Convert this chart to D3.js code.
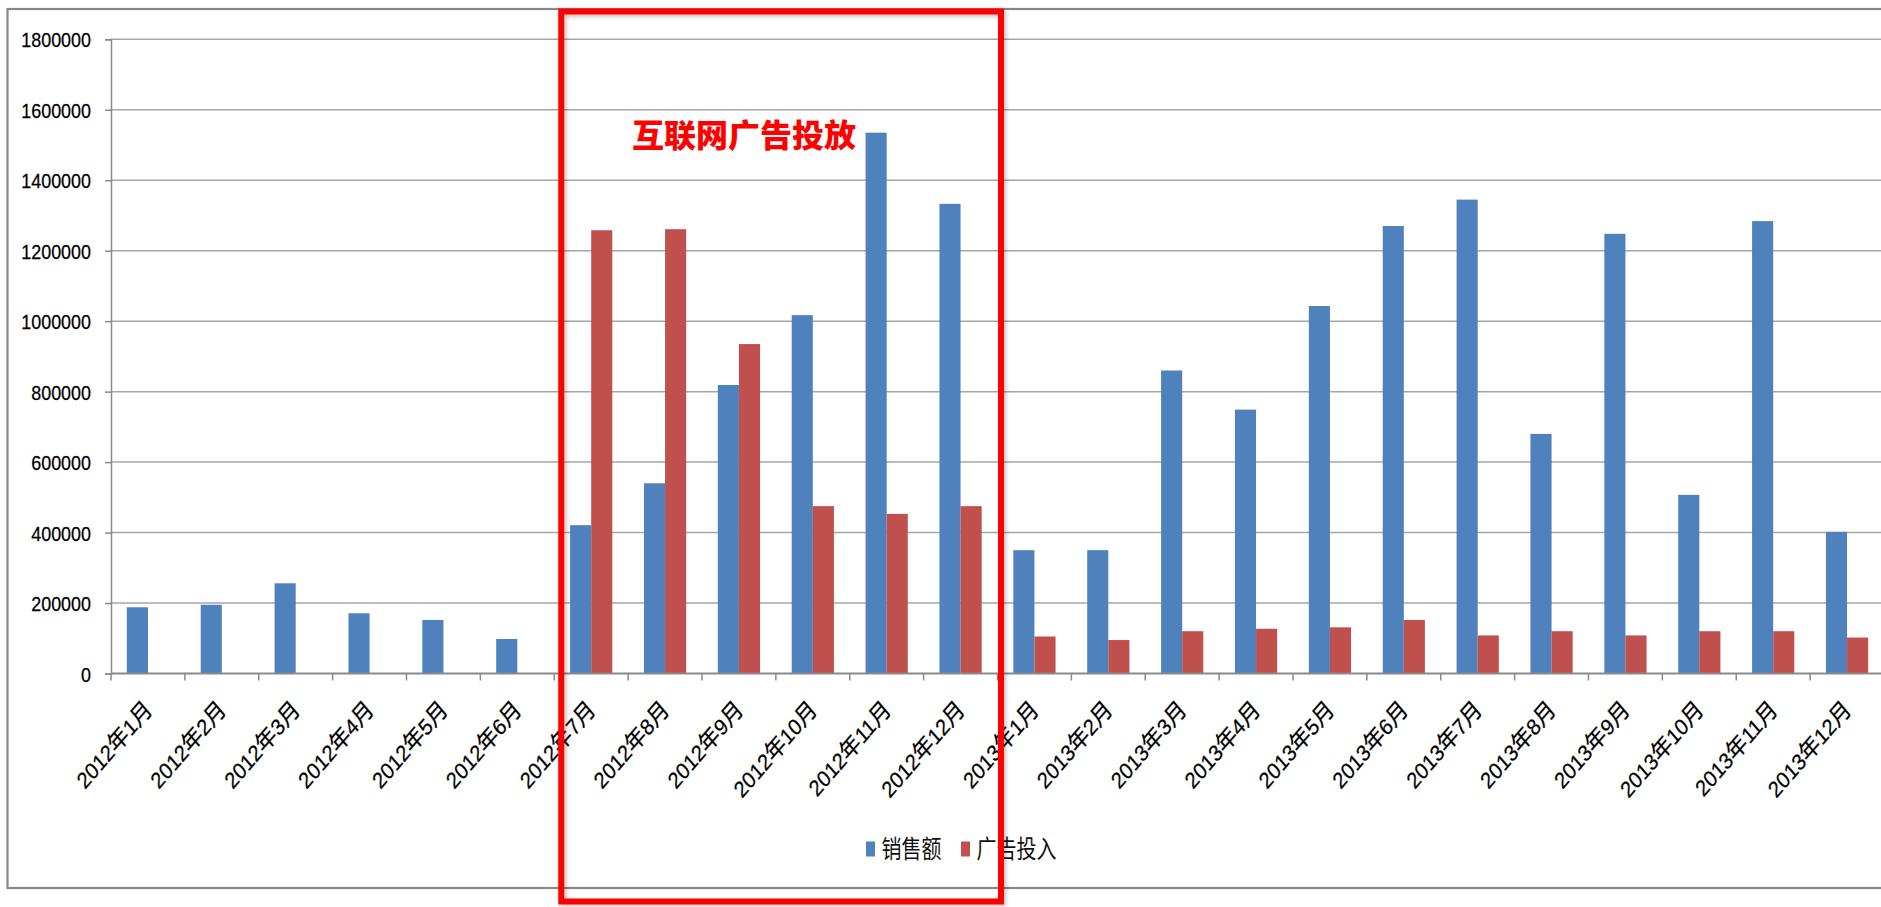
<!DOCTYPE html>
<html>
<head>
<meta charset="utf-8">
<script src="https://cdn.jsdelivr.net/npm/d3@7"></script>
<style>
  html, body { margin: 0; padding: 0; background: #fff; overflow: hidden; }
  svg { display: block; }
</style>
</head>
<body>
<svg id="chart" width="1881" height="907"></svg>
<script>
// Monthly categories, 2012-01 .. 2013-12
const categories = [
  "2012年1月","2012年2月","2012年3月","2012年4月","2012年5月","2012年6月",
  "2012年7月","2012年8月","2012年9月","2012年10月","2012年11月","2012年12月",
  "2013年1月","2013年2月","2013年3月","2013年4月","2013年5月","2013年6月",
  "2013年7月","2013年8月","2013年9月","2013年10月","2013年11月","2013年12月"
];
// 销售额 (sales)
const sales = [
  188000, 195000, 256000, 171000, 152000, 98000,
  421000, 540000, 819000, 1017000, 1535000, 1333000,
  350000, 350000, 860000, 749000, 1043000, 1270000,
  1345000, 680000, 1248000, 507000, 1284000, 402000
];
// 广告投入 (ad spend); null = no spend recorded
const adSpend = [
  null, null, null, null, null, null,
  1258000, 1261000, 935000, 475000, 453000, 475000,
  105000, 95000, 120000, 127000, 131000, 152000,
  108000, 120000, 108000, 120000, 120000, 102000
];
const seriesNames = ["销售额", "广告投入"];
const seriesColors = ["#4F81BD", "#C0504D"];
const yTicks = [0, 200000, 400000, 600000, 800000, 1000000, 1200000, 1400000, 1600000, 1800000];
const highlightCategories = ["2012年7月", "2012年12月"];
const highlightLabel = "互联网广告投放";

const svg = d3.select("#chart");
const W = 1881, H = 907;
const plot = { left: 111, right: 1884, top: 39.3, bottom: 673.5 };

const x = d3.scaleBand().domain(categories).range([plot.left, plot.right]);
const xs = d3.scaleBand().domain(seriesNames).range([0, x.bandwidth()]).paddingOuter(0.75);
const y = d3.scaleLinear().domain([0, d3.max(yTicks)]).range([plot.bottom, plot.top]);
const color = d3.scaleOrdinal().domain(seriesNames).range(seriesColors);

const latin = '"Liberation Sans", Arial, sans-serif';
const cjk = '"Noto Sans CJK SC", "Noto Sans CJK JP", sans-serif';
const ink = "#000";

// white background + outer chart frame
svg.append("rect").attr("width", W).attr("height", H).attr("fill", "#fff");
svg.append("rect")
  .attr("x", 7.5).attr("y", 9).attr("width", 1900).attr("height", 879)
  .attr("fill", "none").attr("stroke", "#878787").attr("stroke-width", 2.2);

// horizontal gridlines
svg.append("g").selectAll("line")
  .data(yTicks.filter(d => d > 0))
  .join("line")
  .attr("x1", plot.left).attr("x2", plot.right)
  .attr("y1", d => y(d)).attr("y2", d => y(d))
  .attr("stroke", "#a6a6a6").attr("stroke-width", 1.5);

// bars
const rows = categories.map((c, i) => ({ cat: c, values: [sales[i], adSpend[i]] }));
const groups = svg.append("g").selectAll("g")
  .data(rows)
  .join("g")
  .attr("transform", d => `translate(${x(d.cat)},0)`);
groups.selectAll("rect")
  .data(d => d.values.map((v, j) => ({ key: seriesNames[j], value: v })).filter(e => e.value != null))
  .join("rect")
  .attr("x", d => xs(d.key))
  .attr("width", xs.bandwidth())
  .attr("y", d => y(d.value))
  .attr("height", d => y(0) - y(d.value))
  .attr("fill", d => color(d.key));

// y axis
const yAxis = svg.append("g")
  .attr("transform", `translate(${plot.left},0)`)
  .call(d3.axisLeft(y).tickValues(yTicks).tickSize(6).tickFormat(d3.format("d")));
yAxis.select(".domain").attr("stroke", "#8a8a8a").attr("stroke-width", 1.5);
yAxis.selectAll(".tick line").attr("stroke", "#8a8a8a").attr("stroke-width", 1.5);
yAxis.selectAll(".tick text")
  .attr("x", null).attr("dy", "0.36em")
  .attr("transform", "translate(-20,0) scale(1.12,1.31)")
  .attr("text-anchor", "end")
  .attr("fill", ink).attr("stroke", ink).attr("stroke-width", 0.2)
  .style("font-family", latin).style("font-size", "16px");

// x axis line with ticks on category boundaries
const xAxis = svg.append("g");
xAxis.append("line")
  .attr("x1", plot.left).attr("x2", plot.right)
  .attr("y1", y(0)).attr("y2", y(0))
  .attr("stroke", "#8a8a8a").attr("stroke-width", 1.8);
const boundaries = categories.map(c => x(c)).concat([x(categories[categories.length - 1]) + x.bandwidth()]);
xAxis.selectAll("line.tk")
  .data(boundaries)
  .join("line").attr("class", "tk")
  .attr("x1", d => d).attr("x2", d => d)
  .attr("y1", y(0)).attr("y2", y(0) + 7)
  .attr("stroke", "#8a8a8a").attr("stroke-width", 1.5);

// rotated category labels
function runs(s) {
  const out = [];
  for (const ch of s) {
    const isCjk = /[\u3000-\u9fff]/.test(ch);
    if (out.length && out[out.length - 1].cjk === isCjk) out[out.length - 1].t += ch;
    else out.push({ t: ch, cjk: isCjk });
  }
  return out;
}
const labels = xAxis.selectAll("text.xl")
  .data(categories)
  .join("text").attr("class", "xl")
  .attr("text-anchor", "end")
  .attr("fill", ink).attr("stroke", ink).attr("stroke-width", 0.2)
  .attr("transform", d => `translate(${x(d) + x.bandwidth() / 2 + 5.5},${y(0) + 37.5}) scale(1.1,1.27) rotate(-45)`)
  .style("font-family", latin).style("font-size", "18px");
labels.selectAll("tspan")
  .data(d => runs(d))
  .join("tspan")
  .text(d => d.t)
  .style("font-family", d => d.cjk ? cjk : latin)
  .style("font-size", d => d.cjk ? "19px" : "18px");

// legend
const legend = svg.append("g").attr("transform", "translate(866,849)");
const legendOffsets = [0, 95];
seriesNames.forEach((name, i) => {
  const g = legend.append("g").attr("transform", `translate(${legendOffsets[i]},0)`);
  g.append("rect").attr("x", 0).attr("y", -7.5).attr("width", 9).attr("height", 15).attr("fill", seriesColors[i]);
  g.append("text")
    .attr("transform", "translate(15.5,0) scale(1.11,1.4)")
    .attr("dy", "0.36em")
    .attr("fill", "#111")
    .style("font-family", cjk).style("font-size", "18px")
    .text(name);
});

// highlighted campaign period
const hx0 = x(highlightCategories[0]) + 7;
const hx1 = x(highlightCategories[1]) + x.bandwidth() + 3.5;
const defs = svg.append("defs");
const f = defs.append("filter").attr("id", "boxShadow").attr("x", "-5%").attr("y", "-5%").attr("width", "110%").attr("height", "110%");
f.append("feDropShadow").attr("dx", 2).attr("dy", 2).attr("stdDeviation", 2).attr("flood-color", "#000").attr("flood-opacity", 0.25);
svg.append("rect")
  .attr("x", hx0).attr("y", 11.5).attr("width", hx1 - hx0).attr("height", 890)
  .attr("fill", "none").attr("stroke", "#ff0000").attr("stroke-width", 6)
  .attr("filter", "url(#boxShadow)");
svg.append("text")
  .attr("x", 632).attr("y", 147)
  .attr("fill", "#ff0000")
  .style("font-family", cjk).style("font-size", "32px").style("font-weight", 900)
  .text(highlightLabel);
</script>
</body>
</html>
